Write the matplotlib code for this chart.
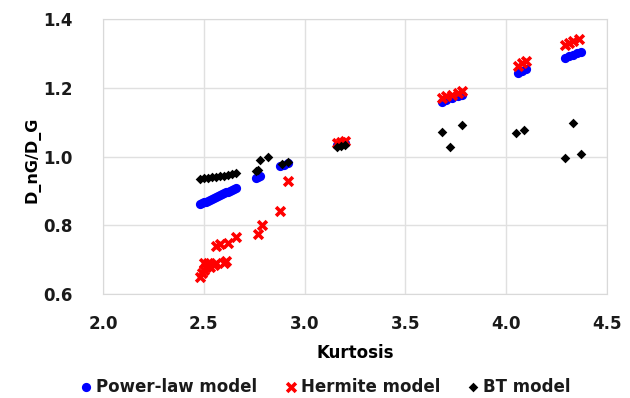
import matplotlib
matplotlib.use("Agg")
import matplotlib.pyplot as plt

# power-law model
pl_kurt = [2.48, 2.49, 2.50, 2.51, 2.52, 2.53, 2.54, 2.55, 2.56, 2.57,
           2.58, 2.59, 2.60, 2.61, 2.62, 2.63, 2.64, 2.65, 2.66,
           2.76, 2.77, 2.78, 2.88, 2.90, 2.92,
           3.16, 3.18, 3.20,
           3.68, 3.70, 3.73, 3.76, 3.78,
           4.06, 4.08, 4.10,
           4.29, 4.31, 4.33, 4.35, 4.37]
pl_ratio = [0.861, 0.864, 0.867, 0.869, 0.872, 0.874, 0.877, 0.880, 0.882, 0.885,
            0.888, 0.890, 0.893, 0.896, 0.898, 0.901, 0.904, 0.906, 0.909,
            0.938, 0.942, 0.945, 0.972, 0.977, 0.981,
            1.033, 1.036, 1.040,
            1.160, 1.165, 1.170, 1.175, 1.180,
            1.243, 1.248, 1.254,
            1.287, 1.292, 1.296, 1.300, 1.305]

# Hermite model
he_kurt = [2.48, 2.49, 2.50, 2.51, 2.52, 2.50, 2.53, 2.55, 2.56, 2.60, 2.61,
           2.56, 2.58, 2.62, 2.66, 2.77, 2.79, 2.88, 2.92,
           3.16, 3.18, 3.20,
           3.68, 3.70, 3.73, 3.76, 3.78,
           4.06, 4.08, 4.10,
           4.29, 4.31, 4.33, 4.36]
he_ratio = [0.650, 0.660, 0.670, 0.680, 0.690, 0.690, 0.680, 0.685, 0.690, 0.690, 0.695,
            0.740, 0.745, 0.748, 0.766, 0.775, 0.800, 0.843, 0.928,
            1.040, 1.043, 1.046,
            1.170, 1.175, 1.180, 1.185, 1.192,
            1.265, 1.272, 1.278,
            1.325, 1.330, 1.335, 1.342]

# BT model
bt_kurt = [2.48, 2.50, 2.52, 2.54, 2.56, 2.58, 2.60, 2.62, 2.64, 2.66,
           2.76, 2.77, 2.78, 2.82, 2.89, 2.92,
           3.16, 3.18, 3.20,
           3.68, 3.72, 3.78,
           4.05, 4.09,
           4.29, 4.33, 4.37]
bt_ratio = [0.935, 0.937, 0.939, 0.940, 0.942, 0.943, 0.945, 0.947, 0.949, 0.951,
            0.958, 0.962, 0.990, 1.000, 0.978, 0.984,
            1.027, 1.030, 1.033,
            1.071, 1.027, 1.092,
            1.068, 1.078,
            0.996, 1.097, 1.007]

plt.rcParams['font.family'] = 'DejaVu Sans'
plt.rcParams['font.weight'] = 'bold'

fig = plt.figure(figsize=(6.3, 3.98), dpi=100)
ax = fig.add_axes([0.1635, 0.261, 0.80, 0.691])

ax.scatter(pl_kurt, pl_ratio, s=44, marker='o', color='#0000ff',
           linewidths=0, label='Power-law model', zorder=3)
ax.scatter(he_kurt, he_ratio, s=40, marker='x', color='#ff0000',
           linewidths=2.6, label='Hermite model', zorder=4)
ax.scatter(bt_kurt, bt_ratio, s=24, marker='D', color='black',
           linewidths=0, label='BT model', zorder=5)

ax.set_xlim(2.0, 4.5)
ax.set_ylim(0.6, 1.4)
ax.set_xticks([2.0, 2.5, 3.0, 3.5, 4.0, 4.5])
ax.set_yticks([0.6, 0.8, 1.0, 1.2, 1.4])
ax.xaxis.set_major_formatter(matplotlib.ticker.FormatStrFormatter('%.1f'))
ax.yaxis.set_major_formatter(matplotlib.ticker.FormatStrFormatter('%.1f'))
ax.tick_params(axis='both', length=0, labelsize=12, colors='#1a1a1a')
ax.tick_params(axis='x', pad=15)
ax.tick_params(axis='y', pad=22)
ax.grid(True, color='#e0e0e0', linewidth=1.0)
ax.set_axisbelow(True)
for sp in ax.spines.values():
    sp.set_color('#d9d9d9')

ax.set_xlabel('Kurtosis', fontsize=12, fontweight='bold', labelpad=8)
ax.set_ylabel('D_nG/D_G', fontsize=11.5, fontweight='bold', labelpad=6)
ax.yaxis.set_label_coords(-0.124, 0.49)

leg = fig.legend(loc='center', bbox_to_anchor=(0.516, 0.028), ncol=3, frameon=False,
                 handlelength=0.8, handletextpad=0.2, columnspacing=1.6,
                 prop={'weight': 'bold', 'size': 12})
for t in leg.get_texts():
    t.set_color('#1a1a1a')

fig.savefig('out.png', dpi=100)
